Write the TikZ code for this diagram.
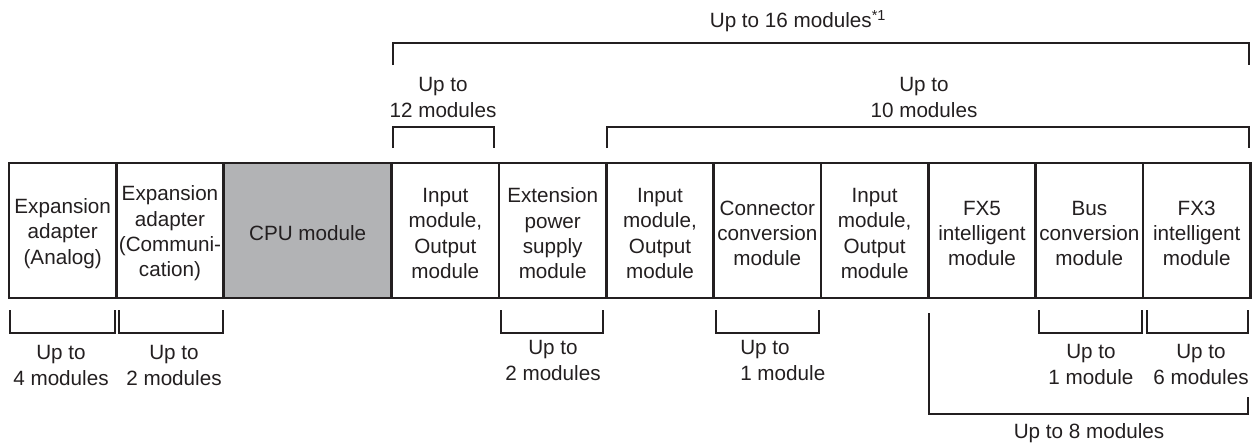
\documentclass[tikz,border=0pt]{standalone}
\usepackage{fontspec}
\setmainfont{Liberation Sans}
\usetikzlibrary{positioning, calc}
\definecolor{ink}{RGB}{35,31,32}
\definecolor{cpugray}{RGB}{178,179,181}

\begin{document}
\begin{tikzpicture}[x=0.75pt, y=-0.75pt,
   every node/.style={font=\fontsize{15.5}{19}\selectfont, text=ink},
   boxtxt/.style={align=center, inner sep=0pt, yshift=-2.25pt},
   mod/.style={draw=ink, line width=2.2pt, minimum width=80.5pt,
               minimum height=101.25pt, inner sep=0pt, outer sep=0pt,
               label={[boxtxt]center:{#1}}},
   cpu/.style={mod={#1}, fill=cpugray, minimum width=126pt},
   brk/.style={draw=ink, line width=1.5pt},
   lbl/.style={align=center, inner sep=0pt}]
  \useasboundingbox (0,0) rectangle (1258,443);

  % module row
  \node[mod={Expansion\\adapter\\(Analog)}, anchor=west] (ana) at (9,230.5) {};
  \node[mod={Expansion\\adapter\\(Communi-\\cation)}, right=0pt of ana] (com) {};
  \node[cpu={CPU module}, right=0pt of com] (cpu) {};
  \node[mod={Input\\module,\\Output\\module}, right=0pt of cpu] (io1) {};
  \node[mod={Extension\\power\\supply\\module}, right=0pt of io1] (pwr) {};
  \node[mod={Input\\module,\\Output\\module}, right=0pt of pwr] (io2) {};
  \node[mod={Connector\\conversion\\module}, right=0pt of io2] (cnv) {};
  \node[mod={Input\\module,\\Output\\module}, right=0pt of cnv] (io3) {};
  \node[mod={FX5\\intelligent\\module}, right=0pt of io3] (fx5) {};
  \node[mod={Bus\\conversion\\module}, right=0pt of fx5] (bus) {};
  \node[mod={FX3\\intelligent\\module}, right=0pt of bus] (fx3) {};

  % limits above the row
  \draw[brk] ($(io1.north west)+(1,-98)$) |- ($(fx3.north east)+(-1,-120)$) -- ++(0,22);
  \node[lbl] (all) at (798,21) {Up to 16 modules\textsuperscript{*1}};
  \draw[brk] ($(io1.north west)+(1,-15)$) |- ($(io1.north east)+(-5,-36)$) -- ++(0,21);
  \node[lbl] (lim12) at (443,97.5) {Up to\\12 modules};
  \draw[brk] ($(io2.north west)+(1,-15)$) |- ($(fx3.north east)+(-1,-36)$) -- ++(0,21);
  \node[lbl] (lim10) at (924,97.5) {Up to\\10 modules};

  % limits below the row
  \draw[brk] ($(ana.south west)+(1,12)$) |- ($(ana.south east)+(-1,35)$) -- ++(0,-23);
  \node[lbl] (lim4) at (61,365.5) {Up to\\4 modules};
  \draw[brk] ($(com.south west)+(3,12)$) |- ($(com.south east)+(-1,35)$) -- ++(0,-23);
  \node[lbl] (lim2a) at (174,365.5) {Up to\\2 modules};
  \draw[brk] ($(pwr.south west)+(2,12)$) |- ($(pwr.south east)+(-3,35)$) -- ++(0,-23);
  \node[lbl] (lim2b) at (553,360.5) {Up to\\2 modules};
  \draw[brk] ($(cnv.south west)+(2,12)$) |- ($(cnv.south east)+(-2,35)$) -- ++(0,-23);
  \node[lbl, anchor=west, align=left] (lim1a) at (740,360.5) {Up to\\1 module};
  \draw[brk] ($(bus.south west)+(3,12)$) |- ($(bus.south east)+(-1,35)$) -- ++(0,-23);
  \node[lbl] (lim1b) at (1091,364.5) {Up to\\1 module};
  \draw[brk] ($(fx3.south west)+(4,12)$) |- ($(fx3.south east)+(-2,35)$) -- ++(0,-23);
  \node[lbl] (lim6) at (1201,364.5) {Up to\\6 modules};
  \draw[brk] ($(fx5.south west)+(1,15)$) |- ($(fx3.south east)+(-2,116)$) -- ++(0,-17);
  \node[lbl] (lim8) at (1089,433) {Up to 8 modules};
\end{tikzpicture}
\end{document}
